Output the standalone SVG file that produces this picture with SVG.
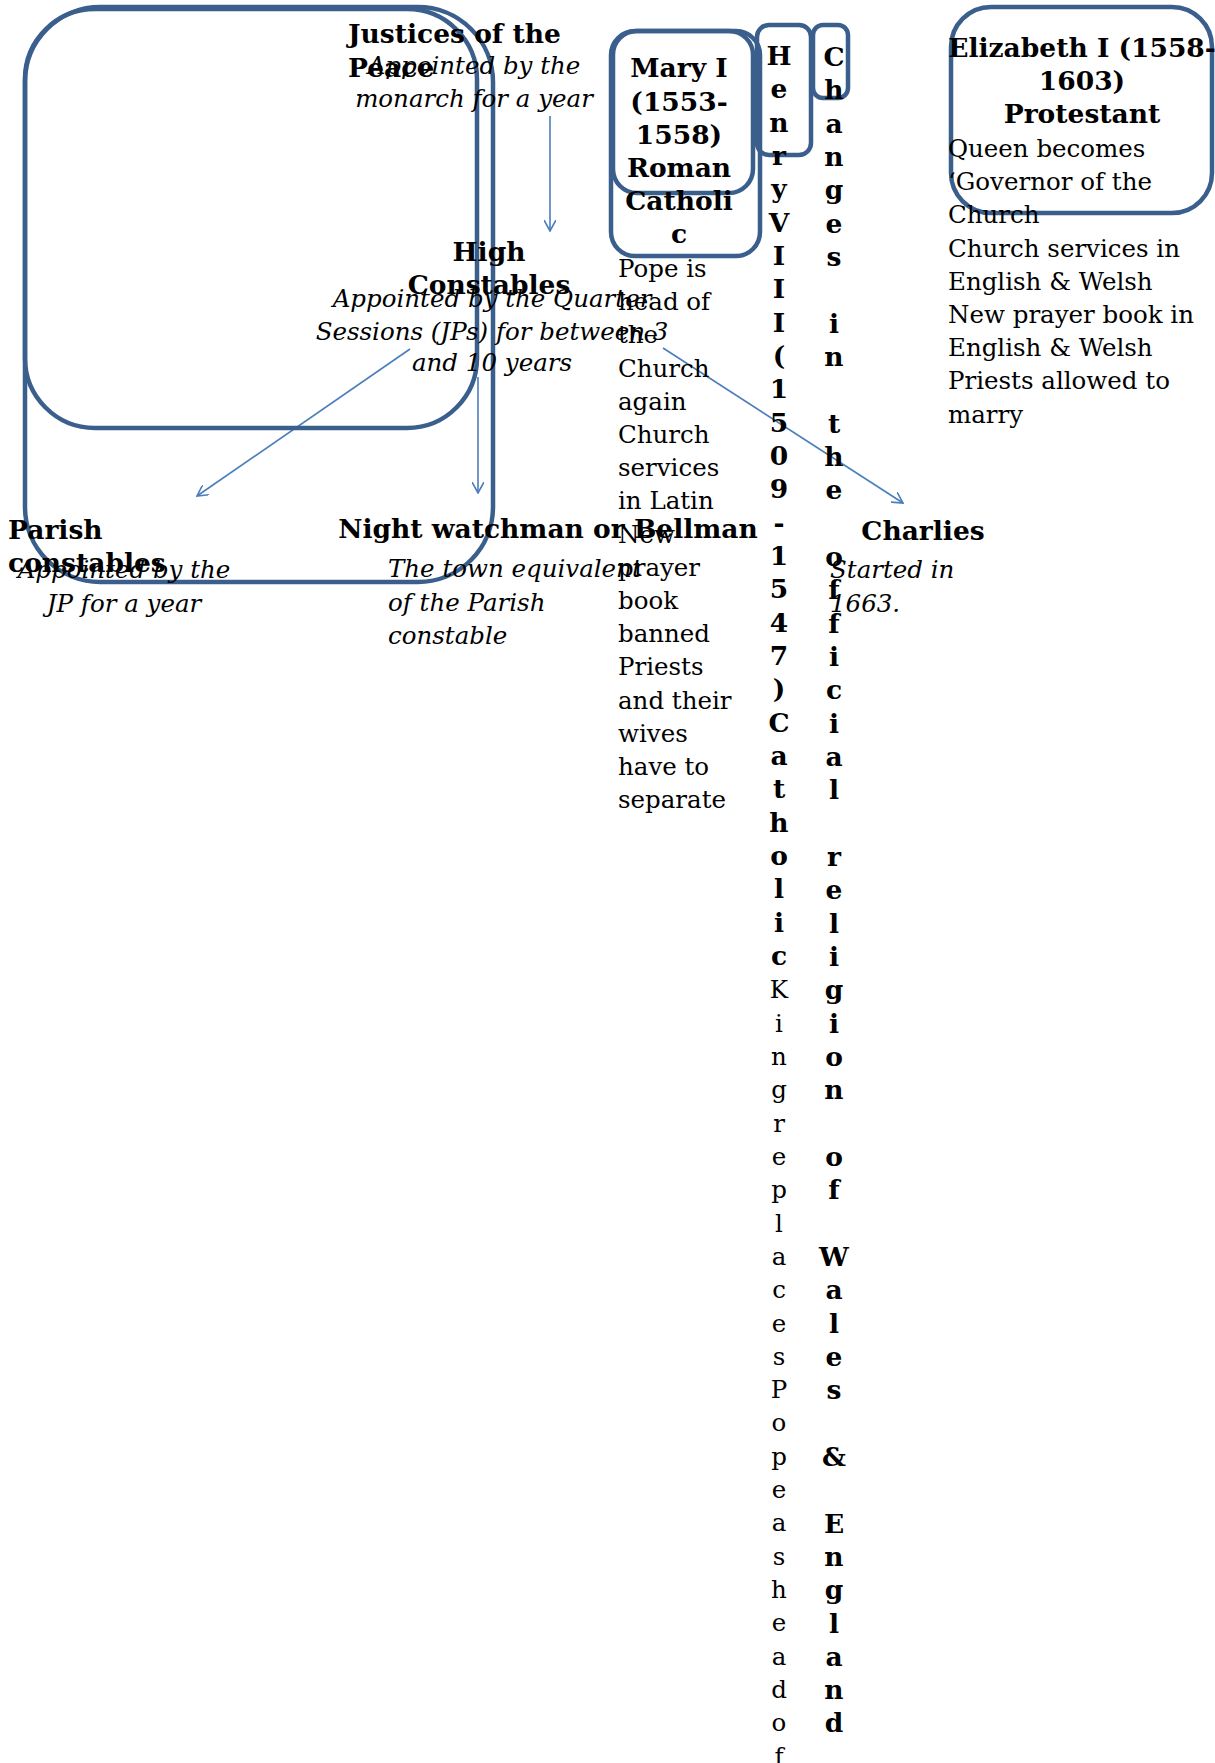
<svg xmlns="http://www.w3.org/2000/svg" width="1215" height="1763" viewBox="0 0 1215 1763">
<style>
.box{fill:none;stroke:#3B5F8D;stroke-width:4.5}
.con{fill:none;stroke:#4A7EBB;stroke-width:1.6}
text{font-family:"DejaVu Serif","Liberation Serif",serif;fill:#000}
.b{font-weight:bold;font-size:26.5px}
.r{font-size:24.5px}
.i{font-style:italic;font-size:24.5px}
.c{text-anchor:middle}
</style>
<defs>
<marker id="ah" viewBox="0 0 12 12" refX="11" refY="6" markerWidth="12" markerHeight="12" markerUnits="userSpaceOnUse" orient="auto">
<path d="M0,0 L11,6 L0,12" fill="none" stroke="#4A7EBB" stroke-width="1.6"/>
</marker>
</defs>
<g id="connectors">
<line class="con" x1="550" y1="116" x2="550" y2="231" marker-end="url(#ah)"/>
<line class="con" x1="410" y1="349" x2="197" y2="496" marker-end="url(#ah)"/>
<line class="con" x1="478" y1="377" x2="478" y2="493" marker-end="url(#ah)"/>
<line class="con" x1="663" y1="348" x2="903" y2="503" marker-end="url(#ah)"/>
</g>
<g id="frame-outer"><rect class="box" x="25" y="7" width="468" height="575" rx="75"/></g>
<g id="frame-inner"><rect class="box" x="25" y="9" width="452" height="419" rx="70"/></g>
<g id="jp">
<text class="b" x="348" y="43">Justices of the</text>
<text class="b" x="348" y="77">Peace</text>
<text class="i c" x="474" y="74">Appointed by the</text>
<text class="i c" x="474" y="107">monarch for a year</text>
</g>
<g id="high">
<text class="b c" x="489" y="261">High</text>
<text class="b c" x="489" y="294">Constables</text>
<text class="i c" x="492" y="307">Appointed by the Quarter</text>
<text class="i c" x="492" y="340">Sessions (JPs) for between 3</text>
<text class="i c" x="492" y="371">and 10 years</text>
</g>
<g id="parish">
<text class="b" x="8" y="539">Parish</text>
<text class="b" x="8" y="572">constables</text>
<text class="i c" x="124" y="578">Appointed by the</text>
<text class="i c" x="124" y="612">JP for a year</text>
</g>
<g id="night">
<text class="b c" x="548" y="538">Night watchman or Bellman</text>
<text class="i" x="388" y="577">The town equivalent</text>
<text class="i" x="388" y="611">of the Parish</text>
<text class="i" x="388" y="644">constable</text>
</g>
<g id="charlies">
<text class="b c" x="923" y="540">Charlies</text>
<text class="i" x="830" y="578">Started in</text>
<text class="i" x="830" y="612">1663.</text>
</g>
<g id="mary">
<rect class="box" x="611" y="31" width="149" height="225" rx="24"/>
<rect class="box" x="613" y="31" width="140" height="162" rx="24"/>
<text class="b c" x="679" y="77">Mary I</text>
<text class="b c" x="679" y="111">(1553-</text>
<text class="b c" x="679" y="144">1558)</text>
<text class="b c" x="679" y="177">Roman</text>
<text class="b c" x="679" y="210">Catholi</text>
<text class="b c" x="679" y="243">c</text>
<text class="r" x="618" y="277">Pope is<tspan x="618" dy="33.2">head of</tspan><tspan x="618" dy="33.2">the</tspan><tspan x="618" dy="33.2">Church</tspan><tspan x="618" dy="33.2">again</tspan><tspan x="618" dy="33.2">Church</tspan><tspan x="618" dy="33.2">services</tspan><tspan x="618" dy="33.2">in Latin</tspan><tspan x="618" dy="33.2">New</tspan><tspan x="618" dy="33.2">prayer</tspan><tspan x="618" dy="33.2">book</tspan><tspan x="618" dy="33.2">banned</tspan><tspan x="618" dy="33.2">Priests</tspan><tspan x="618" dy="33.2">and their</tspan><tspan x="618" dy="33.2">wives</tspan><tspan x="618" dy="33.2">have to</tspan><tspan x="618" dy="33.2">separate</tspan></text>
</g>
<g id="henry">
<rect class="box" x="757" y="25" width="54" height="130" rx="12"/>
<text class="b c" x="779" y="65">H<tspan x="779" dy="33.33">e</tspan><tspan x="779" dy="33.33">n</tspan><tspan x="779" dy="33.33">r</tspan><tspan x="779" dy="33.33">y</tspan><tspan x="779" dy="33.33">V</tspan><tspan x="779" dy="33.33">I</tspan><tspan x="779" dy="33.33">I</tspan><tspan x="779" dy="33.33">I</tspan><tspan x="779" dy="33.33">(</tspan><tspan x="779" dy="33.33">1</tspan><tspan x="779" dy="33.33">5</tspan><tspan x="779" dy="33.33">0</tspan><tspan x="779" dy="33.33">9</tspan><tspan x="779" dy="33.33">-</tspan><tspan x="779" dy="33.33">1</tspan><tspan x="779" dy="33.33">5</tspan><tspan x="779" dy="33.33">4</tspan><tspan x="779" dy="33.33">7</tspan><tspan x="779" dy="33.33">)</tspan><tspan x="779" dy="33.33">C</tspan><tspan x="779" dy="33.33">a</tspan><tspan x="779" dy="33.33">t</tspan><tspan x="779" dy="33.33">h</tspan><tspan x="779" dy="33.33">o</tspan><tspan x="779" dy="33.33">l</tspan><tspan x="779" dy="33.33">i</tspan><tspan x="779" dy="33.33">c</tspan></text>
<text class="r c" x="779" y="998.2">K<tspan x="779" dy="33.33">i</tspan><tspan x="779" dy="33.33">n</tspan><tspan x="779" dy="33.33">g</tspan><tspan x="779" dy="33.33">r</tspan><tspan x="779" dy="33.33">e</tspan><tspan x="779" dy="33.33">p</tspan><tspan x="779" dy="33.33">l</tspan><tspan x="779" dy="33.33">a</tspan><tspan x="779" dy="33.33">c</tspan><tspan x="779" dy="33.33">e</tspan><tspan x="779" dy="33.33">s</tspan><tspan x="779" dy="33.33">P</tspan><tspan x="779" dy="33.33">o</tspan><tspan x="779" dy="33.33">p</tspan><tspan x="779" dy="33.33">e</tspan><tspan x="779" dy="33.33">a</tspan><tspan x="779" dy="33.33">s</tspan><tspan x="779" dy="33.33">h</tspan><tspan x="779" dy="33.33">e</tspan><tspan x="779" dy="33.33">a</tspan><tspan x="779" dy="33.33">d</tspan><tspan x="779" dy="33.33">o</tspan><tspan x="779" dy="33.33">f</tspan></text>
</g>
<g id="changes">
<rect class="box" x="813" y="25" width="35" height="73" rx="10"/>
<text class="b c" x="834" y="66">C<tspan x="834" dy="33.33">h</tspan><tspan x="834" dy="33.33">a</tspan><tspan x="834" dy="33.33">n</tspan><tspan x="834" dy="33.33">g</tspan><tspan x="834" dy="33.33">e</tspan><tspan x="834" dy="33.33">s</tspan><tspan x="834" dy="66.66">i</tspan><tspan x="834" dy="33.33">n</tspan><tspan x="834" dy="66.66">t</tspan><tspan x="834" dy="33.33">h</tspan><tspan x="834" dy="33.33">e</tspan><tspan x="834" dy="66.66">o</tspan><tspan x="834" dy="33.33">f</tspan><tspan x="834" dy="33.33">f</tspan><tspan x="834" dy="33.33">i</tspan><tspan x="834" dy="33.33">c</tspan><tspan x="834" dy="33.33">i</tspan><tspan x="834" dy="33.33">a</tspan><tspan x="834" dy="33.33">l</tspan><tspan x="834" dy="66.66">r</tspan><tspan x="834" dy="33.33">e</tspan><tspan x="834" dy="33.33">l</tspan><tspan x="834" dy="33.33">i</tspan><tspan x="834" dy="33.33">g</tspan><tspan x="834" dy="33.33">i</tspan><tspan x="834" dy="33.33">o</tspan><tspan x="834" dy="33.33">n</tspan><tspan x="834" dy="66.66">o</tspan><tspan x="834" dy="33.33">f</tspan><tspan x="834" dy="66.66">W</tspan><tspan x="834" dy="33.33">a</tspan><tspan x="834" dy="33.33">l</tspan><tspan x="834" dy="33.33">e</tspan><tspan x="834" dy="33.33">s</tspan><tspan x="834" dy="66.66">&amp;</tspan><tspan x="834" dy="66.66">E</tspan><tspan x="834" dy="33.33">n</tspan><tspan x="834" dy="33.33">g</tspan><tspan x="834" dy="33.33">l</tspan><tspan x="834" dy="33.33">a</tspan><tspan x="834" dy="33.33">n</tspan><tspan x="834" dy="33.33">d</tspan></text>
</g>
<g id="elizabeth">
<rect class="box" x="951" y="7" width="261" height="206" rx="40"/>
<text class="b c" x="1082" y="57">Elizabeth I (1558-</text>
<text class="b c" x="1082" y="90">1603)</text>
<text class="b c" x="1082" y="123">Protestant</text>
<text class="r" x="948" y="157">Queen becomes<tspan x="948" dy="33.2">‘Governor of the</tspan><tspan x="948" dy="33.2">Church</tspan><tspan x="948" dy="33.2">Church services in</tspan><tspan x="948" dy="33.2">English &amp; Welsh</tspan><tspan x="948" dy="33.2">New prayer book in</tspan><tspan x="948" dy="33.2">English &amp; Welsh</tspan><tspan x="948" dy="33.2">Priests allowed to</tspan><tspan x="948" dy="33.2">marry</tspan></text>
</g>
</svg>
